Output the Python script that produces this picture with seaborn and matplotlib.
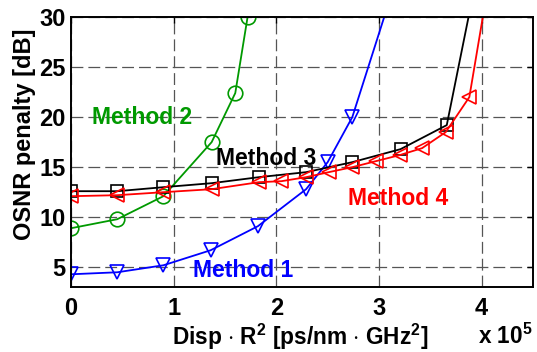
import numpy as np
import pandas as pd
import matplotlib
matplotlib.use("Agg")
import matplotlib.pyplot as plt
import seaborn as sns

# Data (x in units of 1e5 ps/nm*GHz^2)
m1_x = [0, 0.45, 0.9, 1.36, 1.82, 2.29, 2.5, 2.74, 3.2]
m1_y = [4.3, 4.5, 5.2, 6.7, 9.1, 12.8, 15.5, 20.0, 34.8]

m2_x = [0, 0.45, 0.9, 1.37, 1.6, 1.72]
m2_y = [8.9, 9.8, 12.1, 17.5, 22.4, 30.0]

m3_x = [0, 0.45, 0.9, 1.37, 1.83, 2.29, 2.74, 3.21, 3.66, 4.1]
m3_y = [12.6, 12.6, 13.0, 13.4, 14.0, 14.5, 15.5, 16.8, 19.2, 41.6]

m4_x = [0, 0.45, 0.9, 1.37, 1.83, 2.05, 2.29, 2.51, 2.74, 2.97, 3.2, 3.42, 3.65, 3.88, 4.1]
m4_y = [12.1, 12.2, 12.5, 12.8, 13.5, 13.6, 14.0, 14.5, 15.0, 15.6, 16.2, 16.9, 18.5, 22.0, 35.4]

x_ticks = [0, 1, 2, 3, 4]
y_ticks = [5, 10, 15, 20, 25, 30]

series = [
    ("Method 1", m1_x, m1_y, "#0000FF", "v"),
    ("Method 2", m2_x, m2_y, "#009900", "o"),
    ("Method 3", m3_x, m3_y, "#000000", "s"),
    ("Method 4", m4_x, m4_y, "#FF0000", "<"),
]

sns.set_style("white")
plt.rcParams['font.family'] = ['Liberation Sans', 'DejaVu Sans']
plt.rcParams['font.weight'] = 'bold'
plt.rcParams['text.color'] = 'black'
plt.rcParams['xtick.color'] = 'black'
plt.rcParams['ytick.color'] = 'black'
plt.rcParams['mathtext.fontset'] = 'custom'
plt.rcParams['mathtext.bf'] = 'Liberation Sans:bold'
plt.rcParams['mathtext.rm'] = 'Liberation Sans:bold'

fig = plt.figure(figsize=(5.37, 3.52), dpi=100)
ax = fig.add_axes([71/537, 1-287.3/352, 462/537, 270.3/352])

for name, xs, ys, col, mk in series:
    df = pd.DataFrame({"x": xs, "y": ys})
    sns.lineplot(data=df, x="x", y="y", ax=ax, sort=False, color=col,
                 marker=mk, markersize=10.5 if mk != "s" else 8,
                 markerfacecolor="none", markeredgecolor=col,
                 markeredgewidth=1.2, linewidth=1.3)

ax.set_xlim(0, 4.5)
ax.set_ylim(3, 30)
ax.set_xticks(x_ticks)
ax.set_yticks(y_ticks)
ax.set_xticklabels([str(t) for t in x_ticks])
ax.set_yticklabels([str(t) for t in y_ticks])
ax.grid(True, linestyle=(0, (9.5, 4)), color="#555555", linewidth=0.9)
ax.set_axisbelow(True)
for s in ax.spines.values():
    s.set_color("black")
    s.set_linewidth(1.4)
ax.tick_params(axis="both", which="both", direction="in", length=4,
               top=True, right=True, labelsize=17, width=1,
               colors="black", labelcolor="black")
ax.tick_params(axis="x", pad=7)
ax.tick_params(axis="y", pad=4)
for lab in ax.get_xticklabels() + ax.get_yticklabels():
    lab.set_fontweight("bold")

ax.set_xlabel("")
ax.set_ylabel("")
fig.text(300/537, 1-337/352, r"Disp $\cdot$ R$^\mathbf{2}$ [ps/nm $\cdot$ GHz$^\mathbf{2}$]",
         ha="center", va="center", fontsize=16.3, fontweight="bold", color="black")
fig.text(25/537, 1-134/352, "OSNR penalty [dB]", rotation=90,
         ha="center", va="center", fontsize=17, fontweight="bold", color="black")
fig.text(505/537, 1-336/352, r"x 10$^\mathbf{5}$", ha="center", va="center",
         fontsize=16.3, fontweight="bold", color="black")

ax.text(0.69, 20.0, "Method 2", color="#009900", fontsize=16.5, fontweight="bold", ha="center", va="center")
ax.text(1.9, 15.9, "Method 3", color="black", fontsize=16.5, fontweight="bold", ha="center", va="center")
ax.text(3.19, 11.9, "Method 4", color="#FF0000", fontsize=16.5, fontweight="bold", ha="center", va="center")
ax.text(1.68, 4.7, "Method 1", color="#0000FF", fontsize=16.5, fontweight="bold", ha="center", va="center")

fig.savefig("out.png", dpi=100)
